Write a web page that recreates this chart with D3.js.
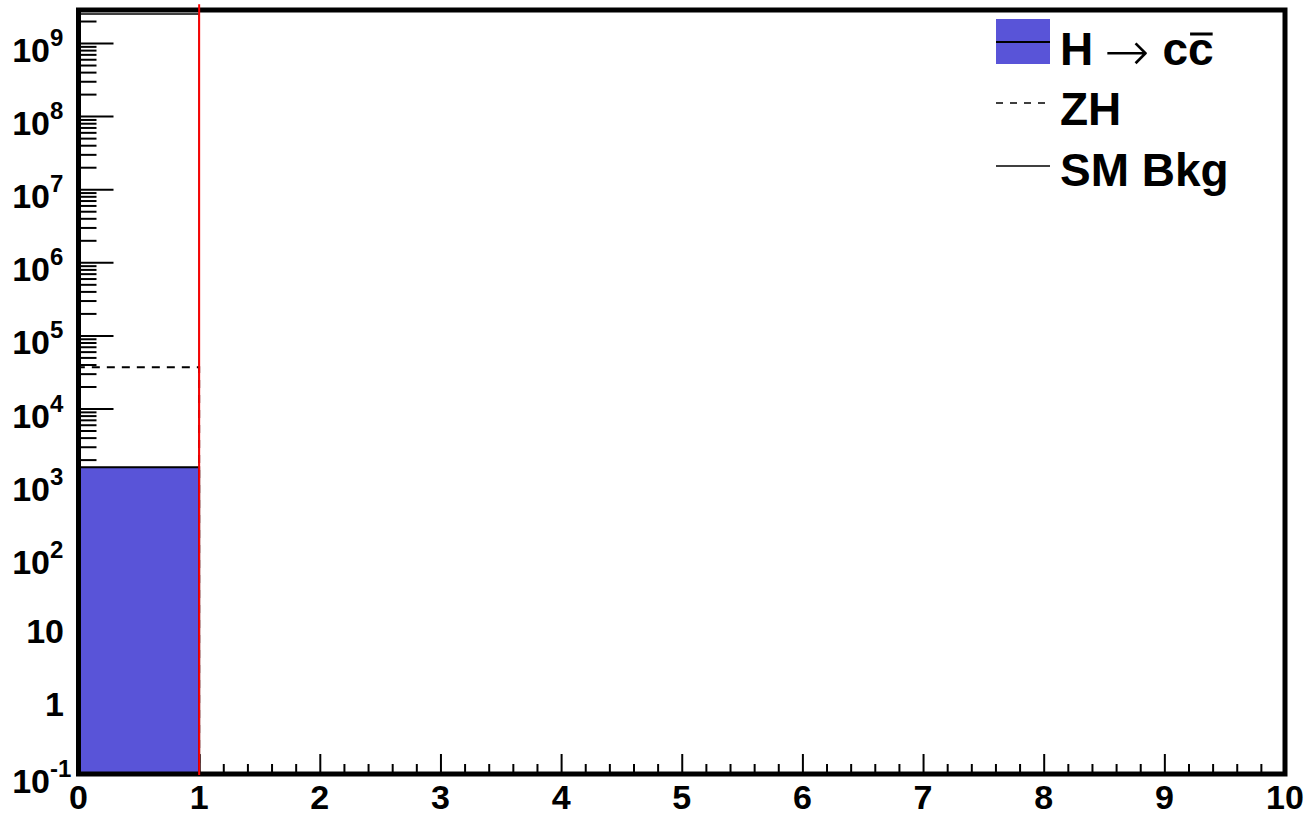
<!DOCTYPE html>
<html>
<head>
<meta charset="utf-8">
<script src="https://cdn.jsdelivr.net/npm/d3@7"></script>
<style>
body { margin: 0; background: #fff; }
text { font-family: "Liberation Sans", Arial, Helvetica, sans-serif; font-weight: bold; fill: #000; }
</style>
</head>
<body>
<div id="chart"></div>
<script>
// histogram bins (0..10, one unit wide)
var binEdges = [0, 1, 2, 3, 4, 5, 6, 7, 8, 9, 10];
var hccCounts = [1570, 0, 0, 0, 0, 0, 0, 0, 0, 0];
var zhCounts = [36600, 0, 0, 0, 0, 0, 0, 0, 0, 0];
var bkgCounts = [2.49e9, 0, 0, 0, 0, 0, 0, 0, 0, 0];

// vertical cut line
var cutX = 1;
var cutRange = [0.1, 3.4e9];

var yDomain = [0.1, 2.83e9];
var xDomain = [0, 10];
var yTickLabels = [0.1, 1, 10, 100, 1e3, 1e4, 1e5, 1e6, 1e7, 1e8, 1e9];
var xTickLabels = [0, 1, 2, 3, 4, 5, 6, 7, 8, 9, 10];

var legendNames = ["H", "ZH", "SM Bkg"];

showHistos();

function showHistos() {
    var width = 1311;
    var height = 816;
    var frame = { "left": 78.5, "right": 1285, "top": 10, "bottom": 774 };
    var fillColor = "#5954d8";

    var svg = d3.select("#chart")
                .append("svg")
                .attr("width", width)
                .attr("height", height);

    var x = d3.scaleLinear()
                .domain(xDomain)
                .range([frame.left, frame.right]);

    var y = d3.scaleLog()
                .domain(yDomain)
                .range([frame.bottom, frame.top]);

    // minor ticks on the log axis: 2..9 x 10^n
    var yMinor = [];
    yTickLabels.forEach(function (d) {
        for (var k = 2; k <= 9; k++) {
            if (d * k <= yDomain[1]) yMinor.push(d * k);
        }
    });
    var xMinor = [];
    for (var i = 0; i < xTickLabels.length - 1; i++) {
        for (var k = 1; k <= 4; k++) xMinor.push(xTickLabels[i] + k * 0.2);
    }

    var yAxisMinor = d3.axisRight(y).tickValues(yMinor).tickSize(18).tickFormat("");
    var yAxisMajor = d3.axisRight(y).tickValues(yTickLabels).tickSize(35).tickFormat("");
    var xAxisMinor = d3.axisTop(x).tickValues(xMinor).tickSize(10).tickFormat("");
    var xAxisMajor = d3.axisTop(x).tickValues(xTickLabels).tickSize(20).tickFormat("");

    [yAxisMinor, yAxisMajor].forEach(function (ax) {
        var g = svg.append("g")
            .attr("transform", "translate(" + frame.left + ",0)")
            .call(ax);
        g.select(".domain").remove();
        g.selectAll("line").attr("stroke", "#000").attr("stroke-width", 2);
    });
    [xAxisMinor, xAxisMajor].forEach(function (ax) {
        var g = svg.append("g")
            .attr("transform", "translate(0," + frame.bottom + ")")
            .call(ax);
        g.select(".domain").remove();
        g.selectAll("line").attr("stroke", "#000").attr("stroke-width", 2);
    });

    // histograms as step outlines
    function stepPoints(counts) {
        var pts = [[binEdges[0], yDomain[0]]];
        counts.forEach(function (c, i) {
            pts.push([binEdges[i], c]);
            pts.push([binEdges[i + 1], c]);
        });
        pts.push([binEdges[binEdges.length - 1], yDomain[0]]);
        return pts;
    }
    var line = d3.line()
                .x(function (d) { return x(d[0]); })
                .y(function (d) { return y(Math.max(d[1], yDomain[0])); });

    svg.append("clipPath").attr("id", "plotclip")
        .append("rect")
        .attr("x", frame.left).attr("y", frame.top)
        .attr("width", frame.right - frame.left)
        .attr("height", frame.bottom - frame.top);

    var plot = svg.append("g").attr("clip-path", "url(#plotclip)");

    plot.append("path")
        .attr("d", line(stepPoints(hccCounts)))
        .attr("fill", fillColor)
        .attr("stroke", "#000")
        .attr("stroke-width", 2);

    plot.append("path")
        .attr("d", line(stepPoints(zhCounts)))
        .attr("fill", "none")
        .attr("stroke", "#000")
        .attr("stroke-width", 2)
        .attr("stroke-dasharray", "8,7");

    plot.append("path")
        .attr("d", line(stepPoints(bkgCounts)))
        .attr("fill", "none")
        .attr("stroke", "#000")
        .attr("stroke-width", 1.5);

    // frame
    svg.append("rect")
        .attr("x", frame.left)
        .attr("y", frame.top)
        .attr("width", frame.right - frame.left)
        .attr("height", frame.bottom - frame.top)
        .attr("fill", "none")
        .attr("stroke", "#000")
        .attr("stroke-width", 5);

    // y labels (ROOT style: 1, 10, 10^n)
    yTickLabels.forEach(function (d) {
        var e = Math.round(Math.log10(d));
        if (e === 0 || e === 1) {
            svg.append("text")
                .attr("x", 64)
                .attr("y", y(d) + 15)
                .attr("text-anchor", "end")
                .style("font-size", "34px")
                .text(e === 0 ? "1" : "10");
        } else {
            svg.append("text")
                .attr("x", 50)
                .attr("y", y(d) + 19)
                .attr("text-anchor", "end")
                .style("font-size", "34px")
                .text("10");
            svg.append("text")
                .attr("x", 50)
                .attr("y", y(d) + 3)
                .style("font-size", "24px")
                .text(e);
        }
    });

    // x labels
    svg.selectAll("text.xlab")
        .data(xTickLabels)
        .enter()
        .append("text")
        .attr("class", "xlab")
        .attr("x", function (d) { return x(d); })
        .attr("y", 809)
        .attr("text-anchor", "middle")
        .style("font-size", "34px")
        .text(function (d) { return d; });

    // cut line
    svg.append("line")
        .attr("x1", x(cutX)).attr("x2", x(cutX))
        .attr("y1", y(cutRange[0]) + 1).attr("y2", y(cutRange[1]))
        .attr("stroke", "#ff0000")
        .attr("stroke-width", 2);

    // legend
    var legend = svg.append("g").attr("transform", "translate(996,0)");
    var rows = [42, 103, 166];

    legend.append("rect")
        .attr("x", 0).attr("y", rows[0] - 23)
        .attr("width", 54).attr("height", 45)
        .attr("fill", fillColor);
    legend.append("line")
        .attr("x1", 0).attr("x2", 54)
        .attr("y1", rows[0]).attr("y2", rows[0])
        .attr("stroke", "#000").attr("stroke-width", 2);
    legend.append("line")
        .attr("x1", 0).attr("x2", 54)
        .attr("y1", rows[1]).attr("y2", rows[1])
        .attr("stroke", "#000").attr("stroke-width", 1.5)
        .attr("stroke-dasharray", "7,7");
    legend.append("line")
        .attr("x1", 0).attr("x2", 54)
        .attr("y1", rows[2]).attr("y2", rows[2])
        .attr("stroke", "#000").attr("stroke-width", 1.5);

    var t0 = legend.append("text")
        .attr("x", 64).attr("y", rows[0] + 23)
        .style("font-size", "46px");
    t0.append("tspan").text(legendNames[0]);
    t0.append("tspan")
        .attr("dx", 11)
        .attr("dy", 5)
        .style("font-family", "'DejaVu Sans', sans-serif")
        .style("font-weight", "200")
        .style("font-size", "54px")
        .text("\u2192");
    t0.append("tspan").attr("dx", 13).attr("dy", -5).text("cc");

    // bar over the second c
    var n = t0.node().getNumberOfChars();
    var box = t0.node().getExtentOfChar(n - 1);
    legend.append("line")
        .attr("x1", box.x + 2).attr("x2", box.x + box.width - 1)
        .attr("y1", rows[0] + 23 - 31).attr("y2", rows[0] + 23 - 31)
        .attr("stroke", "#000").attr("stroke-width", 3);

    legend.append("text")
        .attr("x", 64).attr("y", rows[1] + 22)
        .style("font-size", "46px")
        .text(legendNames[1]);
    legend.append("text")
        .attr("x", 64).attr("y", rows[2] + 20)
        .style("font-size", "46px")
        .text(legendNames[2]);
}
</script>
</body>
</html>
